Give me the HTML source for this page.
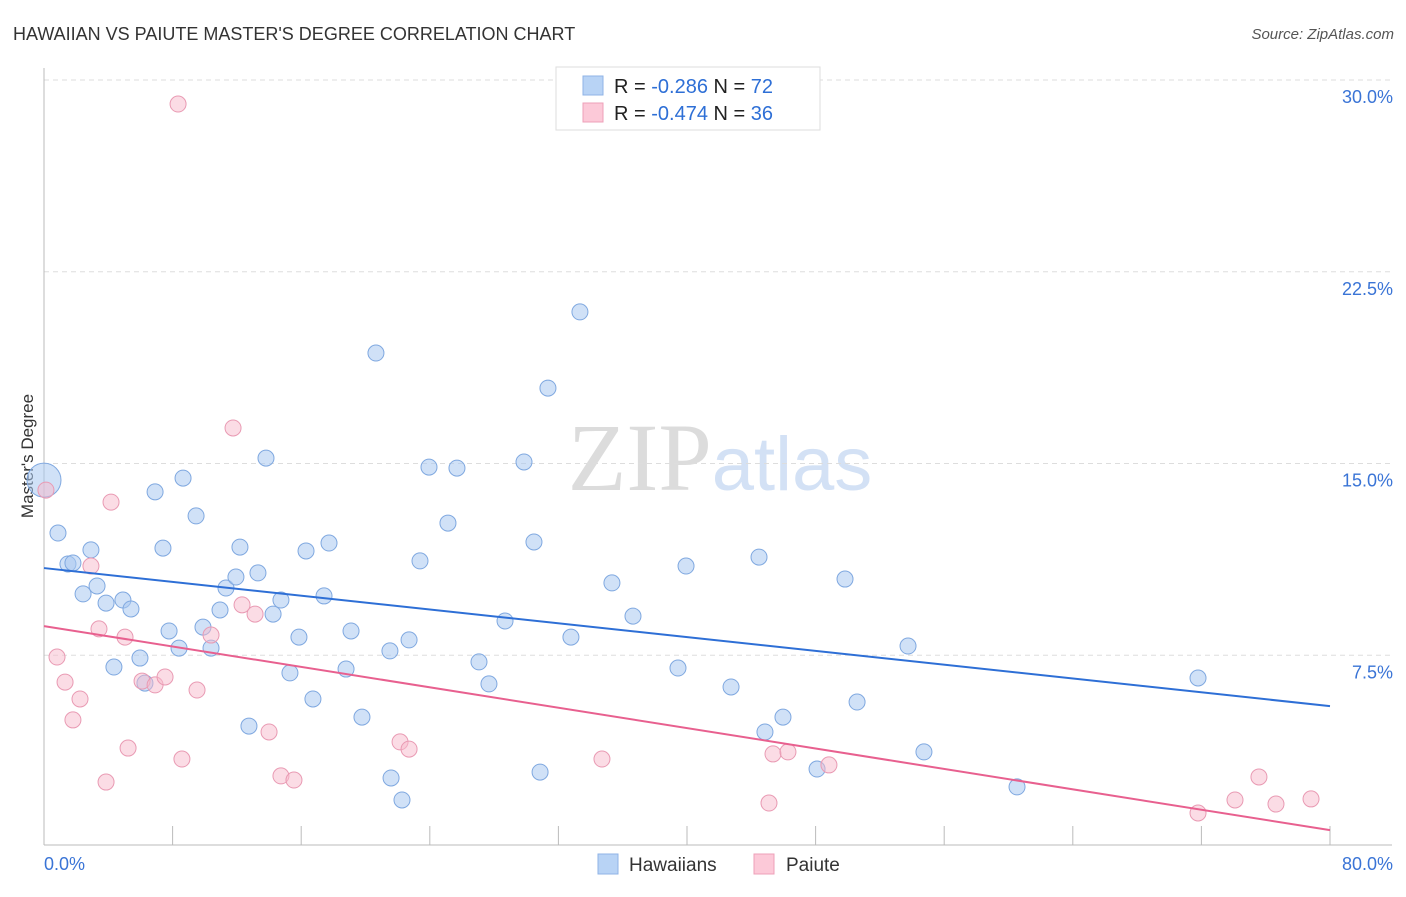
<!DOCTYPE html>
<html><head><meta charset="utf-8"><style>
body{margin:0;background:#fff;font-family:"Liberation Sans",sans-serif;}
svg text{font-family:"Liberation Sans",sans-serif;}
</style></head><body>
<svg id="chart" width="1406" height="892" xmlns="http://www.w3.org/2000/svg">
<text x="13" y="40" font-size="18" fill="#333">HAWAIIAN VS PAIUTE MASTER'S DEGREE CORRELATION CHART</text>
<text x="1394" y="39" font-size="15" fill="#555" text-anchor="end" font-style="italic">Source: ZipAtlas.com</text>
<text x="720" y="490" font-size="96" text-anchor="middle"><tspan fill="#dcdcdc" font-family="Liberation Serif">ZIP</tspan><tspan fill="#d3e1f5" font-size="76">atlas</tspan></text>
<text transform="translate(33,456) rotate(-90)" font-size="17" fill="#333" text-anchor="middle">Master's Degree</text>
<g id="grid"></g><g id="axes"></g><g id="marks"></g>
<g>
<rect x="556" y="67" width="264" height="63" fill="#fff" stroke="#ddd"/>
<rect x="583" y="76" width="20" height="19" fill="#b8d3f5" stroke="#8fb3e6"/>
<rect x="583" y="103" width="20" height="19" fill="#fcc9d8" stroke="#eea0b8"/>
<text x="614" y="93" font-size="20" fill="#222">R = <tspan fill="#2e6fd6">-0.286</tspan>   N = <tspan fill="#2e6fd6">72</tspan></text>
<text x="614" y="120" font-size="20" fill="#222">R = <tspan fill="#2e6fd6">-0.474</tspan>   N = <tspan fill="#2e6fd6">36</tspan></text>
</g>
<g>
<rect x="598" y="854" width="20" height="20" fill="#b8d3f5" stroke="#8fb3e6"/>
<text x="629" y="871" font-size="19" fill="#333">Hawaiians</text>
<rect x="754" y="854" width="20" height="20" fill="#fcc9d8" stroke="#eea0b8"/>
<text x="786" y="871" font-size="19" fill="#333">Paiute</text>
</g>
</svg>
<script>
const yTicks=[7.5,15,22.5,30];
const yTickLabels=["7.5%","15.0%","22.5%","30.0%"];
const xTickLabels=["0.0%","80.0%"];
const hawX=[0,0.87,1.49,1.80,2.92,2.43,3.30,3.86,4.91,5.41,4.35,5.97,6.28,6.91,8.65,7.40,7.78,8.40,9.46,9.89,10.39,10.95,11.32,11.94,12.19,12.75,13.31,13.81,14.25,14.74,15.30,15.86,16.30,16.73,17.42,17.73,18.79,19.10,19.78,20.65,21.52,21.59,22.27,22.71,23.39,23.95,25.13,25.69,27.06,27.68,28.68,29.86,30.48,30.86,31.35,32.78,33.34,35.33,36.64,39.44,39.94,42.74,44.48,44.85,45.97,48.09,49.83,50.58,53.75,54.74,60.53,71.79];
const hawY=[14.35,12.28,11.07,11.11,11.62,9.90,10.21,9.54,9.66,9.31,7.04,7.39,6.41,13.89,14.43,11.69,8.45,7.78,12.95,8.60,7.78,9.27,10.13,10.56,11.73,4.73,10.72,15.21,9.11,9.66,6.81,8.21,11.58,5.79,9.82,11.89,6.96,8.45,5.08,19.32,7.67,2.70,1.84,8.10,11.19,14.86,12.67,14.82,7.24,6.38,8.84,15.06,11.93,2.93,17.95,8.21,20.93,10.33,9.03,7.00,10.99,6.26,11.34,4.50,5.08,3.05,10.48,5.67,7.86,3.72,2.35,6.61];
const paiX=[8.34,11.76,4.17,0.12,2.92,0.81,1.31,2.24,1.80,3.42,5.04,6.10,6.91,7.53,9.52,10.39,12.32,13.13,5.23,3.86,8.58,14.00,14.74,15.55,22.15,22.71,34.71,45.10,45.35,46.28,48.83,71.79,74.09,75.58,76.64,78.82];
const paiY=[29.06,16.39,13.49,13.96,10.99,7.43,6.45,5.79,4.97,8.53,8.21,6.49,6.34,6.65,6.14,8.29,9.47,9.11,3.87,2.54,3.44,4.50,2.78,2.62,4.11,3.83,3.44,1.72,3.64,3.72,3.21,1.33,1.84,2.74,1.68,1.88];
const hawTrend=[10.91,5.51];
const paiTrend=[8.64,0.66];
const X0=44,X1=1330,Y0=847,Y1=80;
const sx=v=>X0+(v/80)*(X1-X0);
const sy=v=>Y0-(v/30)*(Y0-Y1);
const NS="http://www.w3.org/2000/svg";
function mk(parent,tag,attrs){const e=document.createElementNS(NS,tag);for(const k in attrs)e.setAttribute(k,attrs[k]);document.getElementById(parent).appendChild(e);return e;}
yTicks.forEach((t,i)=>{
  const g=mk('grid','line',{x1:X0,x2:1392,y1:sy(t),y2:sy(t),stroke:'#ddd','stroke-dasharray':'5,4'});
  
  
  const l=mk('axes','text',{x:1393,y:sy(t)+23,'font-size':18,fill:'#3a74d6','text-anchor':'end'});
  l.textContent=yTickLabels[i];
  
  
});
const ya=mk('axes','line',{x1:X0,x2:X0,y1:68,y2:845,stroke:'#bbb'});


const xa=mk('axes','line',{x1:X0,x2:1392,y1:845,y2:845,stroke:'#bbb'});


for(let i=1;i<=10;i++){
  const t=mk('axes','line',{x1:sx(i*8),x2:sx(i*8),y1:826,y2:845,stroke:'#bbb'});
  
  
}
[[0,'start',44],[80,'end',1393]].forEach((d,i)=>{
  const l=mk('axes','text',{x:d[2],y:870,'font-size':18,fill:'#3a74d6','text-anchor':d[1]});
  l.textContent=xTickLabels[i];
  
  
});
hawX.forEach((x,i)=>{
  const c=mk('marks','circle',{cx:sx(x),cy:sy(hawY[i]),r:i===0?17:8,fill:'#a9c8f0','fill-opacity':0.55,stroke:'#7fa8e0','stroke-width':1});
  
  
});
paiX.forEach((x,i)=>{
  const c=mk('marks','circle',{cx:sx(x),cy:sy(paiY[i]),r:8,fill:'#f7b9cc','fill-opacity':0.5,stroke:'#e99ab3','stroke-width':1});
  
  
});
const hl=mk('marks','line',{x1:sx(0),y1:sy(hawTrend[0]),x2:sx(80),y2:sy(hawTrend[1]),stroke:'#2e6fd6','stroke-width':2});


const pl=mk('marks','line',{x1:sx(0),y1:sy(paiTrend[0]),x2:sx(80),y2:sy(paiTrend[1]),stroke:'#e8608f','stroke-width':2});


</script>
</body></html>
